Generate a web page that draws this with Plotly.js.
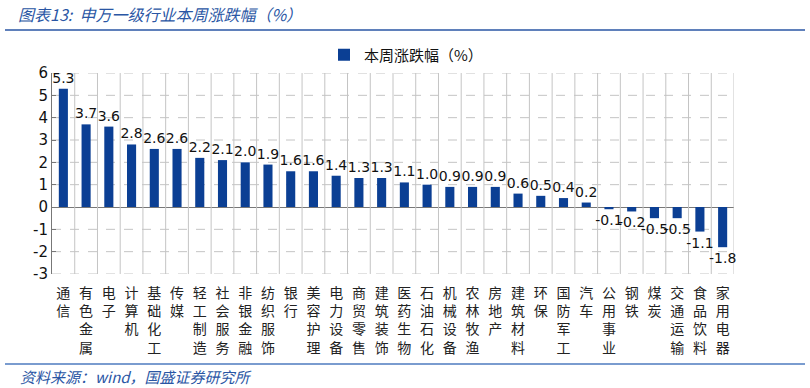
<!DOCTYPE html>
<html>
<head>
<meta charset="utf-8">
<script src="https://cdn.plot.ly/plotly-3.0.1.min.js"></script>
<style>html,body{margin:0;padding:0;background:#fff;}#chart{width:810px;height:388px;}</style>
</head>
<body>
<div id="chart"></div>
<script>
const categories = ["通信","有色金属","电子","计算机","基础化工","传媒","轻工制造","社会服务","非银金融","纺织服饰","银行","美容护理","电力设备","商贸零售","建筑装饰","医药生物","石油石化","机械设备","农林牧渔","房地产","建筑材料","环保","国防军工","汽车","公用事业","钢铁","煤炭","交通运输","食品饮料","家用电器"];
const weeklyChange = [5.3,3.7,3.6,2.8,2.6,2.6,2.2,2.1,2.0,1.9,1.6,1.6,1.4,1.3,1.3,1.1,1.0,0.9,0.9,0.9,0.6,0.5,0.4,0.2,-0.1,-0.2,-0.5,-0.5,-1.1,-1.8];
const seriesName = "本周涨跌幅（%）";
const yTicks = [-3,-2,-1,0,1,2,3,4,5,6];

const verticalLabels = categories.map(c => c.split("").join("<br>"));
const barColor = "#0B3F94";
const gridColor = "#c4c4c4";
const L = 52, R = 76, T = 73, B = 114, W = 810, H = 388;
const pw = W - L - R, ph = H - T - B;
const px = x => (x - L) / pw;
const py = y => 1 - (y - T) / ph;

const trace = {
  type: "bar",
  x: verticalLabels,
  y: weeklyChange,
  name: seriesName,
  marker: {color: barColor},
  width: 0.4,
  text: weeklyChange.map(v => v.toFixed(1)),
  textposition: "outside",
  constraintext: "none",
  cliponaxis: false,
  textfont: {family: "DejaVu Sans", size: 14, color: "#111"},
  showlegend: true
};

// grid lines built from the y ticks and the category boundaries
const gridShapes = [];
yTicks.filter(v => v !== 0).forEach(v => gridShapes.push({
  type: "line", layer: "between", xref: "x", yref: "y", x0: -0.5, x1: categories.length - 0.5, y0: v, y1: v,
  line: {color: gridColor, width: 1, dash: "dash"}
}));
for (let i = 1; i <= categories.length; i++) {
  gridShapes.push({
    type: "line", layer: "between", xref: "x", yref: "y", x0: i - 0.5, x1: i - 0.5, y0: yTicks[0], y1: yTicks[yTicks.length - 1],
    line: {color: gridColor, width: 1}
  });
}

const layout = {
  width: W, height: H,
  margin: {l: L, r: R, t: T, b: B, pad: 0},
  paper_bgcolor: "#fff", plot_bgcolor: "rgba(0,0,0,0)",
  font: {family: "DejaVu Sans", color: "#111"},
  title: {
    text: "图表13:  申万一级行业本周涨跌幅（%）",
    x: 18/810, xref: "container", xanchor: "left",
    y: 1 - 15/388, yref: "container", yanchor: "middle",
    font: {family: "Noto Sans CJK SC", size: 16, color: "#2A56A4", style: "italic"}
  },
  showlegend: true,
  legend: {
    orientation: "h", x: px(324), xanchor: "left", y: py(55), yanchor: "middle",
    font: {family: "Noto Sans CJK SC", size: 15, color: "#111"},
    itemwidth: 30, bgcolor: "rgba(0,0,0,0)"
  },
  bargap: 0.6,
  xaxis: {
    type: "category",
    range: [-0.5, categories.length - 0.5],
    showgrid: false,
    showline: false, zeroline: false,
    ticks: "", tickangle: 0,
    ticklabelstandoff: 9,
    tickfont: {family: "Noto Sans CJK SC", size: 14, color: "#222"},
    automargin: false
  },
  yaxis: {
    range: [-3, 6], tickvals: yTicks, ticktext: yTicks.map(String),
    showgrid: false,
    zeroline: true, zerolinecolor: "#777", zerolinewidth: 1,
    showline: true, linecolor: "#777", linewidth: 1,
    ticks: "inside", ticklen: 4, tickcolor: "#777",
    tickfont: {family: "DejaVu Sans", size: 15, color: "#111"},
    automargin: false
  },
  shapes: gridShapes.concat([
    {type: "line", xref: "paper", yref: "paper", x0: px(5), x1: px(805), y0: py(30), y1: py(30), line: {color: "#2A56A4", width: 1.5}},
    {type: "line", xref: "paper", yref: "paper", x0: px(5), x1: px(805), y0: py(364), y1: py(364), line: {color: "#7A9CCF", width: 2}}
  ]),
  annotations: [
    {text: "资料来源：wind，国盛证券研究所", xref: "paper", yref: "paper", x: px(18), xanchor: "left", y: py(376), yanchor: "middle", showarrow: false,
     font: {family: "Noto Sans CJK SC", size: 15, color: "#2A56A4", style: "italic"}}
  ]
};

Plotly.newPlot("chart", [trace], layout, {displayModeBar: false, staticPlot: true});
</script>
</body>
</html>
